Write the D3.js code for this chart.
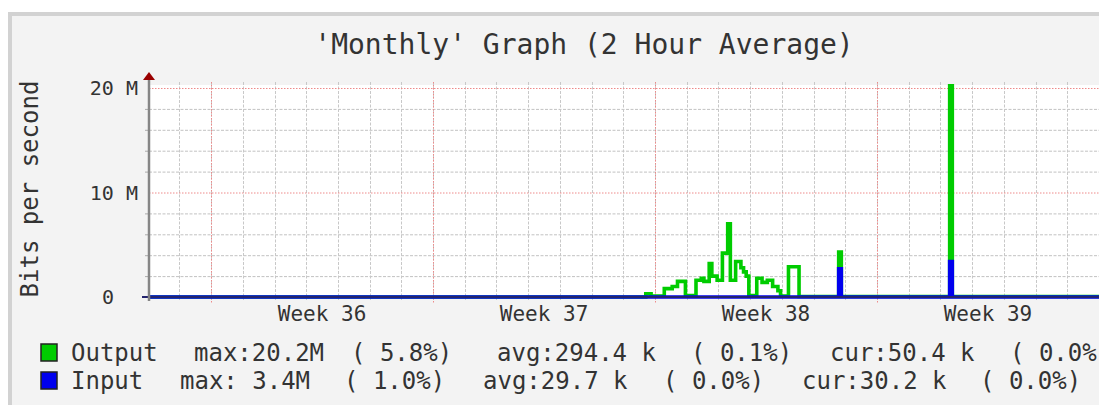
<!DOCTYPE html>
<html>
<head>
<meta charset="utf-8">
<script src="https://cdn.jsdelivr.net/npm/d3@7"></script>
<style>
  html, body { margin: 0; padding: 0; background: #fff; }
  svg { display: block; font-family: "DejaVu Sans Mono", monospace; }
</style>
</head>
<body>
<div id="chart"></div>
<script>
// 'Monthly' graph, 2 hour averages in Mbit/s
// each step holds its value until the next entry

const TIME_START = "2014-08-30T01:00Z";
const TIME_END = "2014-09-30T01:00Z";

const outputSteps = [
  ["2014-08-30T01:00Z", 0],
  ["2014-09-14T17:00Z", 0.3],
  ["2014-09-14T21:00Z", 0.1],
  ["2014-09-15T07:00Z", 0.8],
  ["2014-09-15T13:00Z", 1.0],
  ["2014-09-15T17:00Z", 1.5],
  ["2014-09-15T23:00Z", 0.15],
  ["2014-09-16T07:00Z", 1.6],
  ["2014-09-16T11:00Z", 1.8],
  ["2014-09-16T13:00Z", 1.5],
  ["2014-09-16T17:00Z", 3.2],
  ["2014-09-16T19:00Z", 2.0],
  ["2014-09-16T23:00Z", 1.6],
  ["2014-09-17T03:00Z", 4.2],
  ["2014-09-17T07:00Z", 7.0],
  ["2014-09-17T09:00Z", 1.6],
  ["2014-09-17T13:00Z", 3.4],
  ["2014-09-17T17:00Z", 2.8],
  ["2014-09-17T19:00Z", 2.4],
  ["2014-09-17T21:00Z", 2.0],
  ["2014-09-17T23:00Z", 0.15],
  ["2014-09-18T05:00Z", 1.8],
  ["2014-09-18T09:00Z", 1.4],
  ["2014-09-18T13:00Z", 1.6],
  ["2014-09-18T17:00Z", 1.0],
  ["2014-09-18T21:00Z", 0.6],
  ["2014-09-18T23:00Z", 0.1],
  ["2014-09-19T05:00Z", 2.9],
  ["2014-09-19T13:00Z", 0.05],
  ["2014-09-20T19:00Z", 4.3],
  ["2014-09-20T21:00Z", 0.05],
  ["2014-09-24T07:00Z", 20.2],
  ["2014-09-24T09:00Z", 0.05],
];

const inputSteps = [
  ["2014-08-30T01:00Z", 0],
  ["2014-09-20T19:00Z", 2.7],
  ["2014-09-20T21:00Z", 0],
  ["2014-09-24T07:00Z", 3.4],
  ["2014-09-24T09:00Z", 0],
];

const yMajorTicks = [0, 10, 20];
const yMinorTicks = [2, 4, 6, 8, 12, 14, 16, 18];
const yTickLabels = ["0  ", "10 M", "20 M"];

const legendNames = ["Output", "Input"];
const legendColors = ["#00cc00", "#0000ee"];
const legendMax = ["max:20.2M", "max: 3.4M"];
const legendMaxPct = ["( 5.8%)", "( 1.0%)"];
const legendAvg = ["avg:294.4 k", "avg:29.7 k"];
const legendAvgPct = ["( 0.1%)", "( 0.0%)"];
const legendCur = ["cur:50.4 k", "cur:30.2 k"];
const legendCurPct = ["( 0.0%)", "( 0.0%)"];

const width = 1099;
const height = 405;
const plotLeft = 149;
const plotRight = 1132;
const plotTop = 88;
const plotBottom = 297;

const parseTime = d3.utcParse("%Y-%m-%dT%H:%MZ");
const start = parseTime(TIME_START);
const end = parseTime(TIME_END);

const x = d3.scaleUtc().domain([start, end]).range([plotLeft, plotRight]);
const y = d3.scaleLinear().domain([0, 20]).range([plotBottom, plotTop]);

const svg = d3
  .select("#chart")
  .append("svg")
  .attr("width", width)
  .attr("height", height)
  .attr("viewBox", `0 0 ${width} ${height}`);

// frame
svg.append("rect").attr("width", width).attr("height", height).attr("fill", "#fff");
svg
  .append("rect")
  .attr("x", 10)
  .attr("y", 14)
  .attr("width", width + 20)
  .attr("height", height)
  .attr("fill", "#f3f3f3")
  .attr("stroke", "#d2d2d2")
  .attr("stroke-width", 4);

svg
  .append("rect")
  .attr("x", plotLeft)
  .attr("y", plotTop - 3)
  .attr("width", plotRight - plotLeft)
  .attr("height", plotBottom - plotTop + 3)
  .attr("fill", "#fff");

renderGrid();
renderSeries(outputSteps, legendColors[0]);
renderSeries(inputSteps, legendColors[1]);
renderAxes();
renderTitle();
renderLegend();

function renderGrid() {
  const grid = svg.append("g").attr("class", "grid");
  const days = d3.utcDay.range(start, end);
  const weeks = d3.utcMonday.range(start, end);

  grid
    .selectAll("line.hminor")
    .data(yMinorTicks)
    .join("line")
    .attr("x1", plotLeft)
    .attr("x2", plotRight)
    .attr("y1", (d) => y(d) + 0.5)
    .attr("y2", (d) => y(d) + 0.5)
    .attr("stroke", "#c2c2c2")
    .attr("stroke-dasharray", "3,1.5");

  grid
    .selectAll("line.vminor")
    .data(days)
    .join("line")
    .attr("x1", (d) => Math.round(x(d)) + 0.5)
    .attr("x2", (d) => Math.round(x(d)) + 0.5)
    .attr("y1", plotTop - 6)
    .attr("y2", plotBottom + 3)
    .attr("stroke", "#c8c8c8")
    .attr("stroke-dasharray", "3,1.5");

  grid
    .selectAll("line.hmajor")
    .data(yMajorTicks.slice(1))
    .join("line")
    .attr("x1", plotLeft)
    .attr("x2", plotRight)
    .attr("y1", (d) => y(d) + 0.5)
    .attr("y2", (d) => y(d) + 0.5)
    .attr("stroke", "#ee8a8a")
    .attr("stroke-dasharray", "1.5,1.5");

  grid
    .selectAll("line.vmajor")
    .data(weeks)
    .join("line")
    .attr("x1", (d) => Math.round(x(d)) + 0.5)
    .attr("x2", (d) => Math.round(x(d)) + 0.5)
    .attr("y1", plotTop - 6)
    .attr("y2", plotBottom + 6)
    .attr("stroke", "#ee8a8a")
    .attr("stroke-dasharray", "1.5,1.5");

  // little ticks left of the y axis
  grid
    .selectAll("line.ytick")
    .data(yMinorTicks)
    .join("line")
    .attr("x1", plotLeft - 4)
    .attr("x2", plotLeft)
    .attr("y1", (d) => y(d) + 0.5)
    .attr("y2", (d) => y(d) + 0.5)
    .attr("stroke", "#aaa");
}

function renderSeries(steps, color) {
  const points = steps.map(([t, v]) => ({ t: parseTime(t), v }));
  points.push({ t: end, v: points[points.length - 1].v });

  const line = d3
    .line()
    .x((d) => x(d.t))
    .y((d) => y(d.v))
    .curve(d3.curveStepAfter);

  svg
    .append("path")
    .datum(points)
    .attr("d", line)
    .attr("fill", "none")
    .attr("stroke", color)
    .attr("stroke-width", 3.6)
    .attr("stroke-linejoin", "miter");
}

function renderAxes() {
  // x axis base line
  svg
    .append("line")
    .attr("x1", plotLeft - 7)
    .attr("x2", width)
    .attr("y1", plotBottom)
    .attr("y2", plotBottom)
    .attr("stroke", "#24246e")
    .attr("stroke-width", 2);

  // y axis with arrow
  svg
    .append("line")
    .attr("x1", plotLeft)
    .attr("x2", plotLeft)
    .attr("y1", plotBottom + 4)
    .attr("y2", plotTop - 10)
    .attr("stroke", "#858585")
    .attr("stroke-width", 2.5);

  svg
    .append("path")
    .attr("d", `M${plotLeft - 6},${plotTop - 8}L${plotLeft + 6},${plotTop - 8}L${plotLeft},${plotTop - 16}Z`)
    .attr("fill", "#9a0000");

  svg
    .selectAll("text.ylabel")
    .data(yMajorTicks)
    .join("text")
    .attr("class", "ylabel")
    .attr("x", 138)
    .attr("y", (d) => y(d) + 7)
    .attr("text-anchor", "end")
    .style("white-space", "pre")
    .attr("font-size", 20)
    .attr("fill", "#333")
    .text((_, i) => yTickLabels[i]);

  const weekLabels = d3
    .utcMonday
    .range(d3.utcMonday.floor(start), end)
    .map((d) => ({ d, mid: d3.utcHour.offset(d, 84) }))
    .filter((w) => w.mid > start && w.mid < end);

  svg
    .selectAll("text.week")
    .data(weekLabels)
    .join("text")
    .attr("class", "week")
    .attr("x", (w) => x(w.mid))
    .attr("y", 321)
    .attr("text-anchor", "middle")
    .attr("font-size", 21)
    .attr("fill", "#333")
    .text((w) => d3.utcFormat("Week %V")(w.d));

  svg
    .append("text")
    .attr("transform", "translate(38,189) rotate(-90)")
    .attr("text-anchor", "middle")
    .attr("font-size", 24)
    .attr("fill", "#333")
    .text("Bits per second");
}

function renderTitle() {
  svg
    .append("text")
    .attr("x", 584)
    .attr("y", 54)
    .attr("text-anchor", "middle")
    .attr("font-size", 28)
    .attr("fill", "#333")
    .text("'Monthly' Graph (2 Hour Average)");
}

function renderLegend() {
  const rowY = [361, 389];
  const columns = [
    { texts: legendNames, xs: [71, 71] },
    { texts: legendMax, xs: [194, 180] },
    { texts: legendMaxPct, xs: [351, 344] },
    { texts: legendAvg, xs: [497, 483] },
    { texts: legendAvgPct, xs: [691, 663] },
    { texts: legendCur, xs: [830, 802] },
    { texts: legendCurPct, xs: [1010, 980] },
  ];

  const legend = svg.append("g").attr("class", "legend");

  legend
    .selectAll("rect")
    .data(legendColors)
    .join("rect")
    .attr("x", 41)
    .attr("y", (_, i) => rowY[i] - 17)
    .attr("width", 16)
    .attr("height", 17)
    .attr("fill", (d) => d)
    .attr("stroke", "#222")
    .attr("stroke-width", 1.5);

  columns.forEach((col) => {
    legend
      .append("g")
      .selectAll("text")
      .data(col.texts)
      .join("text")
      .attr("x", (_, i) => col.xs[i])
      .attr("y", (_, i) => rowY[i])
      .style("white-space", "pre")
      .attr("font-size", 24)
      .attr("fill", "#333")
      .text((d) => d);
  });
}
</script>
</body>
</html>
